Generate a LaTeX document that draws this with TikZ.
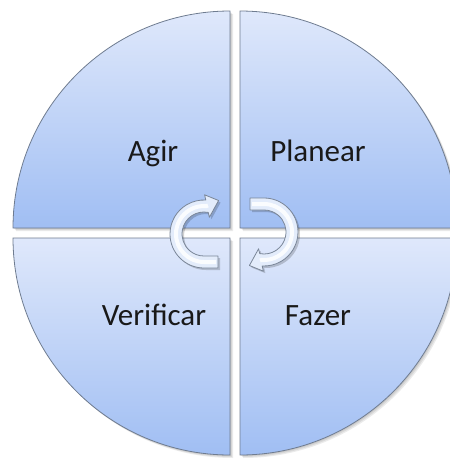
\documentclass[tikz,border=0pt]{standalone}
\usepackage{fontspec}
\setmainfont{Carlito}
\newcommand\quadTL{(230,228) -- (13,228) arc[start angle=180,end angle=270,radius=217] -- cycle}
\newcommand\quadTR{(240,228) -- (240,11) arc[start angle=270,end angle=360,radius=217] -- cycle}
\newcommand\quadBL{(230,238) -- (13,238) arc[start angle=180,end angle=90,radius=217] -- cycle}
\newcommand\quadBR{(240,238) -- (457,238) arc[start angle=0,end angle=90,radius=217] -- cycle}
\newcommand\cycarrow{(218,256) -- (218,268) -- (204,268) arc[start angle=90,end angle=273,radius=34] -- (204.6,194.8) -- (218.6,200.5) -- (209.4,217.2) -- (208.2,212.4) arc[start angle=281,end angle=90,radius=22] -- cycle}
\newcommand\cycmid{(216,262) -- (204,262) arc[start angle=90,end angle=275,radius=28] -- (208,205.5)}
\begin{document}
\begin{tikzpicture}[x=1pt,y=-1pt]
\definecolor{qtop}{HTML}{DFE8FB}
\definecolor{qbot}{HTML}{A0BEF3}
\definecolor{qedge}{HTML}{6F7C90}
\definecolor{afill}{HTML}{E3ECFB}
\definecolor{aedge}{HTML}{7A8698}
\tikzset{
  quad/.style={top color=qtop,bottom color=qbot,draw=qedge,line width=0.8pt},
  shade1/.style={fill=black,opacity=0.08},
  arrowbody/.style={fill=afill,draw=aedge,line width=0.8pt,line join=round},
  arrowshine/.style={draw=white,line width=4pt,opacity=0.85},
  lbl/.style={font=\fontsize{31}{37}\selectfont,text=black!90,anchor=base,inner sep=0pt}
}
\useasboundingbox (0,0) rectangle (450,459);
\fill[white] (0,0) rectangle (450,459);
% shadows
\foreach \d in {1,2,3}{
  \fill[shade1,shift={(\d,\d)}] \quadTL;
  \fill[shade1,shift={(\d,\d)}] \quadTR;
  \fill[shade1,shift={(\d,\d)}] \quadBL;
  \fill[shade1,shift={(\d,\d)}] \quadBR;
}
% quadrants
\path[quad] \quadTL;
\path[quad] \quadTR;
\path[quad] \quadBL;
\path[quad] \quadBR;
% labels
\node[lbl] (agir) at (153,161) {Agir};
\node[lbl] (planear) at (318,161) {Planear};
\node[lbl] (verificar) at (154,325) {Verificar};
\node[lbl] (fazer) at (318,325) {Fazer};
% arrow shadows
\begin{scope}[shift={(2,2)}]
  \fill[black,opacity=0.18] \cycarrow;
  \begin{scope}[rotate around={180:(234,233)}]
    \fill[black,opacity=0.18] \cycarrow;
  \end{scope}
\end{scope}
% left arrow
\path[arrowbody] \cycarrow;
\draw[arrowshine] \cycmid;
% right arrow
\begin{scope}[rotate around={180:(234,233)}]
  \path[arrowbody] \cycarrow;
  \draw[arrowshine] \cycmid;
\end{scope}
\end{tikzpicture}
\end{document}
